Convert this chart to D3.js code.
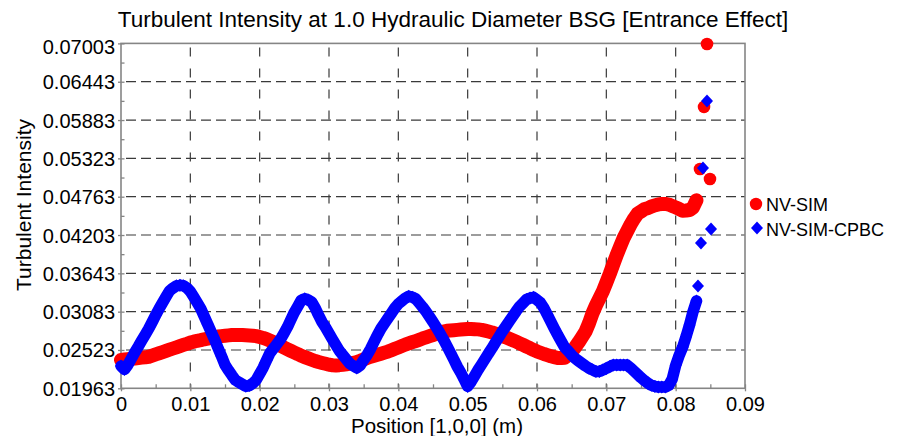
<!DOCTYPE html>
<html><head><meta charset="utf-8">
<script src="https://cdn.jsdelivr.net/npm/d3@7"></script>
<style>
body{margin:0;background:#fff}
svg{display:block}
text{font-family:"Liberation Sans",Arial,sans-serif;fill:#000}
</style>
</head><body>
<svg id="c" width="901" height="436"></svg>
<script>
// ---------- data ----------
const positions = [
0,0.0005,0.001,0.0015,0.002,0.0025,0.003,0.0035,0.004,0.0045,
0.005,0.0055,0.006,0.0065,0.007,0.0075,0.008,0.0085,0.009,0.0095,
0.01,0.0105,0.011,0.0115,0.012,0.0125,0.013,0.0135,0.014,0.0145,
0.015,0.0155,0.016,0.0165,0.017,0.0175,0.018,0.0185,0.019,0.0195,
0.02,0.0205,0.021,0.0215,0.022,0.0225,0.023,0.0235,0.024,0.0245,
0.025,0.0255,0.026,0.0265,0.027,0.0275,0.028,0.0285,0.029,0.0295,
0.03,0.0305,0.031,0.0315,0.032,0.0325,0.033,0.0335,0.034,0.0345,
0.035,0.0355,0.036,0.0365,0.037,0.0375,0.038,0.0385,0.039,0.0395,
0.04,0.0405,0.041,0.0415,0.042,0.0425,0.043,0.0435,0.044,0.0445,
0.045,0.0455,0.046,0.0465,0.047,0.0475,0.048,0.0485,0.049,0.0495,
0.05,0.0505,0.051,0.0515,0.052,0.0525,0.053,0.0535,0.054,0.0545,
0.055,0.0555,0.056,0.0565,0.057,0.0575,0.058,0.0585,0.059,0.0595,
0.06,0.0605,0.061,0.0615,0.062,0.0625,0.063,0.0635,0.064,0.0645,
0.065,0.0655,0.066,0.0665,0.067,0.0675,0.068,0.0685,0.069,0.0695,
0.07,0.0705,0.071,0.0715,0.072,0.0725,0.073,0.0735,0.074,0.0745,
0.075,0.0755,0.076,0.0765,0.077,0.0775,0.078,0.0785,0.079,0.0795,
0.08,0.0805,0.081,0.0815,0.082,0.0825,0.083];

const nvSim = [
0.02377,0.02383,0.02389,0.02395,0.02399,0.02405,0.02411,0.02416,0.02424,0.02441,
0.02459,0.02475,0.02492,0.02510,0.02527,0.02545,0.02562,0.02580,0.02597,0.02613,
0.02631,0.02645,0.02657,0.02667,0.02679,0.02689,0.02701,0.02711,0.02719,0.02725,
0.02730,0.02736,0.02742,0.02742,0.02742,0.02742,0.02738,0.02735,0.02731,0.02725,
0.02712,0.02699,0.02681,0.02658,0.02636,0.02611,0.02585,0.02560,0.02535,0.02510,
0.02486,0.02463,0.02438,0.02419,0.02400,0.02381,0.02362,0.02347,0.02334,0.02321,
0.02308,0.02300,0.02297,0.02301,0.02307,0.02314,0.02324,0.02336,0.02346,0.02365,
0.02386,0.02405,0.02424,0.02439,0.02453,0.02468,0.02484,0.02500,0.02520,0.02541,
0.02560,0.02580,0.02601,0.02619,0.02637,0.02654,0.02672,0.02691,0.02708,0.02725,
0.02742,0.02760,0.02776,0.02793,0.02804,0.02808,0.02812,0.02817,0.02821,0.02825,
0.02830,0.02830,0.02827,0.02824,0.02817,0.02805,0.02792,0.02779,0.02761,0.02744,
0.02726,0.02708,0.02687,0.02666,0.02644,0.02621,0.02597,0.02572,0.02549,0.02524,
0.02501,0.02482,0.02464,0.02448,0.02432,0.02419,0.02406,0.02406,0.02410,0.02453,
0.02504,0.02562,0.02635,0.02713,0.02792,0.02913,0.03058,0.03175,0.03277,0.03381,
0.03508,0.03637,0.03776,0.03910,0.04037,0.04159,0.04258,0.04356,0.04442,0.04515,
0.04547,0.04580,0.04597,0.04619,0.04635,0.04650,0.04657,0.04657,0.04648,0.04628,
0.04607,0.04584,0.04558,0.04561,0.04568,0.04605,0.04710];

const nvSimCpbc = [
0.02289,0.02238,0.02307,0.02399,0.02491,0.02574,0.02662,0.02748,0.02834,0.02932,
0.03032,0.03127,0.03216,0.03303,0.03387,0.03428,0.03460,0.03468,0.03461,0.03431,
0.03378,0.03296,0.03214,0.03128,0.03014,0.02900,0.02789,0.02675,0.02551,0.02431,
0.02304,0.02226,0.02152,0.02082,0.02052,0.02022,0.01992,0.02003,0.02035,0.02084,
0.02173,0.02264,0.02374,0.02482,0.02545,0.02612,0.02679,0.02767,0.02858,0.02967,
0.03073,0.03160,0.03251,0.03273,0.03254,0.03225,0.03139,0.03031,0.02930,0.02853,
0.02765,0.02679,0.02594,0.02510,0.02447,0.02385,0.02323,0.02292,0.02261,0.02299,
0.02377,0.02451,0.02540,0.02643,0.02742,0.02836,0.02912,0.02986,0.03061,0.03137,
0.03197,0.03238,0.03280,0.03309,0.03295,0.03271,0.03211,0.03150,0.03083,0.03008,
0.02932,0.02850,0.02767,0.02679,0.02583,0.02485,0.02383,0.02280,0.02191,0.02093,
0.01991,0.02059,0.02146,0.02232,0.02311,0.02391,0.02472,0.02549,0.02632,0.02714,
0.02795,0.02868,0.02942,0.03015,0.03090,0.03159,0.03211,0.03262,0.03281,0.03292,
0.03255,0.03213,0.03134,0.03037,0.02935,0.02836,0.02739,0.02650,0.02560,0.02507,
0.02448,0.02399,0.02362,0.02326,0.02289,0.02257,0.02233,0.02209,0.02210,0.02231,
0.02254,0.02280,0.02304,0.02304,0.02304,0.02304,0.02302,0.02261,0.02214,0.02165,
0.02118,0.02076,0.02036,0.02006,0.01991,0.01982,0.01982,0.01982,0.02006,0.02097,
0.02299,0.02442,0.02563,0.02718,0.02888,0.03082,0.03240];

// outlet points (sparse end of each series)
const nvSimTailX = [0.08351, 0.08409, 0.08452, 0.08495];
const nvSimTailY = [0.05168, 0.06075, 0.06995, 0.05022];
const cpbcTailX  = [0.08322, 0.08365, 0.08394, 0.08452, 0.08510];
const cpbcTailY  = [0.03458, 0.04087, 0.05183, 0.06162, 0.04292];

const xTicks = [0,0.01,0.02,0.03,0.04,0.05,0.06,0.07,0.08,0.09];
const xTickLabels = ["0","0.01","0.02","0.03","0.04","0.05","0.06","0.07","0.08","0.09"];
const xMinorTicks = [0.005,0.015,0.025,0.035,0.045,0.055,0.065,0.075,0.085];
const yTicks = [0.01963,0.02523,0.03083,0.03643,0.04203,0.04763,0.05323,0.05883,0.06443,0.07003];
const yTickLabels = ["0.01963","0.02523","0.03083","0.03643","0.04203","0.04763","0.05323","0.05883","0.06443","0.07003"];
const yMinorTicks = [0.02243,0.02803,0.03363,0.03923,0.04483,0.05043,0.05603,0.06163,0.06723];
const seriesNames = ["NV-SIM","NV-SIM-CPBC"];
const seriesColors = ["#ff0000","#0000ff"];
const titleText = "Turbulent Intensity at 1.0 Hydraulic Diameter BSG [Entrance Effect]";
const xTitle = "Position [1,0,0] (m)";
const yTitle = "Turbulent Intensity";

// ---------- layout ----------
const L = 121, R = 745, T = 43.4, B = 388.3;
const svg = d3.select("#c");
const x = d3.scaleLinear().domain([0, 0.09]).range([L, R]);
const y = d3.scaleLinear().domain([0.01963, 0.07003]).range([B, T]);

// grid
const grid = svg.append("g").attr("stroke", "#3a3a3a").attr("stroke-width", 1.2).attr("fill", "none");
grid.selectAll("line.h").data(yTicks.slice(1, -1)).join("line")
  .attr("x1", L).attr("x2", R).attr("y1", d => y(d)).attr("y2", d => y(d))
  .attr("stroke-dasharray", "10,5").attr("stroke-dashoffset", -5);
grid.selectAll("line.v").data(xTicks.slice(1, -1)).join("line")
  .attr("x1", d => x(d)).attr("x2", d => x(d)).attr("y1", T).attr("y2", B)
  .attr("stroke-dasharray", "9,12").attr("stroke-dashoffset", -4);

// frame
svg.append("rect").attr("x", L).attr("y", T).attr("width", R - L).attr("height", B - T)
  .attr("fill", "none").attr("stroke", "#858585").attr("stroke-width", 1.6);

// axes
const xAxis = svg.append("g").attr("transform", `translate(0,${B})`)
  .call(d3.axisBottom(x).tickValues(xTicks).tickFormat((d, i) => xTickLabels[i]).tickSize(3).tickSizeOuter(0).tickPadding(6));
const xAxisMinor = svg.append("g").attr("transform", `translate(0,${B})`)
  .call(d3.axisBottom(x).tickValues(xMinorTicks.concat(xTicks)).tickFormat("").tickSize(-4).tickSizeOuter(0));
const yAxis = svg.append("g").attr("transform", `translate(${L},0)`)
  .call(d3.axisLeft(y).tickValues(yTicks).tickFormat((d, i) => yTickLabels[i]).tickSize(3).tickSizeOuter(0).tickPadding(3));
const yAxisMinor = svg.append("g").attr("transform", `translate(${L},0)`)
  .call(d3.axisLeft(y).tickValues(yMinorTicks.concat(yTicks)).tickFormat("").tickSize(-3.5).tickSizeOuter(0));
[xAxis, xAxisMinor, yAxis, yAxisMinor].forEach(g => {
  g.select(".domain").remove();
  g.selectAll(".tick line").attr("stroke", "#858585").attr("stroke-width", 1.3);
  g.selectAll("text").attr("font-size", 20).attr("font-family", '"Liberation Sans",Arial,sans-serif').attr("fill", "#000");
});
yAxis.selectAll("text").attr("dy", (d, i) => i === yTicks.length - 1 ? "0.5em" : "0.35em");
xAxis.selectAll("text").attr("dy", "0.71em");

// titles
svg.append("text").attr("x", 453).attr("y", 27).attr("text-anchor", "middle")
  .attr("font-size", 22.5).text(titleText);
svg.append("text").attr("x", 437).attr("y", 432.5).attr("text-anchor", "middle")
  .attr("font-size", 20.5).text(xTitle);
svg.append("text").attr("transform", "translate(31,205) rotate(-90)").attr("text-anchor", "middle")
  .attr("font-size", 21).text(yTitle);

// series: dense scatter markers forming a continuous band
const diamond = "M0,-6.5L6,0L0,6.5L-6,0Z";
const redCurve = positions.map((p, i) => [p, nvSim[i]]);
const blueCurve = positions.map((p, i) => [p, nvSimCpbc[i]]);
const redPts = redCurve.concat(nvSimTailX.map((p, i) => [p, nvSimTailY[i]]));
const bluePts = blueCurve.concat(cpbcTailX.map((p, i) => [p, cpbcTailY[i]]));
const band = d3.line().x(d => x(d[0])).y(d => y(d[1]));

svg.append("path").attr("d", band(redCurve)).attr("fill", "none").attr("stroke", seriesColors[0])
  .attr("stroke-width", 14).attr("stroke-linejoin", "round").attr("stroke-linecap", "round");
svg.append("g").selectAll("circle").data(redPts).join("circle")
  .attr("cx", d => x(d[0])).attr("cy", d => y(d[1])).attr("r", 6.3).attr("fill", seriesColors[0]);
svg.append("path").attr("d", band(blueCurve)).attr("fill", "none").attr("stroke", seriesColors[1])
  .attr("stroke-width", 11.5).attr("stroke-linejoin", "round").attr("stroke-linecap", "round");
svg.append("g").selectAll("path").data(bluePts).join("path")
  .attr("transform", d => `translate(${x(d[0])},${y(d[1])})`).attr("d", diamond).attr("fill", seriesColors[1]);

// legend
const leg = svg.append("g");
leg.append("circle").attr("cx", 756).attr("cy", 204).attr("r", 6.2).attr("fill", seriesColors[0]);
leg.append("text").attr("x", 766).attr("y", 210.5).attr("font-size", 18).text(seriesNames[0]);
leg.append("path").attr("transform", "translate(757,228)").attr("d", diamond).attr("fill", seriesColors[1]);
leg.append("text").attr("x", 766).attr("y", 235.5).attr("font-size", 18).text(seriesNames[1]);
</script>
</body></html>
